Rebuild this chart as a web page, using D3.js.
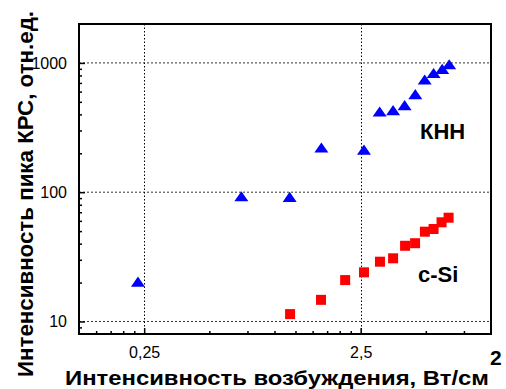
<!DOCTYPE html>
<html><head><meta charset="utf-8">
<script src="https://cdn.jsdelivr.net/npm/d3@7"></script>
<style>
body{margin:0;background:#fff;}
svg{display:block;font-family:"Liberation Sans",Arial,sans-serif;}
</style></head><body>
<svg id="c" width="506" height="389"></svg>
<script>
// data
const knnX = [0.234, 0.703, 1.175, 1.646, 2.59, 3.06, 3.53, 3.99, 4.47, 4.94, 5.43, 5.95, 6.41];
const knnY = [19.9, 91, 90, 217, 209, 412, 422, 462, 561, 728, 818, 881, 957];
const siX = [1.18, 1.64, 2.12, 2.59, 3.07, 3.53, 4.01, 4.46, 4.95, 5.43, 5.91, 6.37];
const siY = [11.4, 14.7, 20.9, 24.0, 29.0, 30.8, 38.5, 40.3, 49.5, 51.9, 58.5, 63.5];
const xMajor = [0.25, 2.5];
const xMajorLabels = ["0,25", "2,5"];
const xMinor = [0.15, 0.175, 0.2, 0.225, 0.5, 0.75, 1, 1.25, 1.5, 1.75, 2, 2.25, 5, 7.5];
const yMajor = [10, 100, 1000];
const yMajorLabels = ["10", "100", "1000"];
const yMinor = [9, 20, 30, 40, 50, 60, 70, 80, 90, 200, 300, 400, 500, 600, 700, 800, 900];
const xTitle = "Интенсивность возбуждения, Вт/см";
const xTitleSup = "2";
const yTitle = "Интенсивность пика КРС, отн.ед.";
const labelKnn = "КНН";
const labelSi = "c-Si";

const L = 79, R = 491, T = 24, B = 334;
const svg = d3.select("#c");
const x = d3.scaleLog().domain([0.125, 10]).range([L, R]);
const y = d3.scaleLog().domain([8, 2000]).range([B, T]);

// grid
const g = svg.append("g");
g.selectAll(".hg").data(yMajor).join("line")
  .attr("x1", L).attr("x2", R).attr("y1", d => y(d)).attr("y2", d => y(d))
  .attr("stroke", "#333").attr("stroke-width", 1).attr("stroke-dasharray", "2,2");
g.selectAll(".vg").data(xMajor).join("line")
  .attr("y1", T).attr("y2", B).attr("x1", d => Math.round(x(d)) + 0.5).attr("x2", d => Math.round(x(d)) + 0.5)
  .attr("stroke", "#000").attr("stroke-width", 1).attr("stroke-dasharray", "1.5,2");

// axes
const ax = svg.append("g").attr("transform", `translate(0,${B})`);
ax.call(d3.axisBottom(x).tickValues(xMinor).tickSize(-3).tickFormat(""));
const ax2 = svg.append("g").attr("transform", `translate(0,${B})`);
ax2.call(d3.axisBottom(x).tickValues(xMajor).tickSize(-6).tickPadding(13)
  .tickFormat((d, i) => xMajorLabels[i]));
const ay = svg.append("g").attr("transform", `translate(${L},0)`);
ay.call(d3.axisLeft(y).tickValues(yMinor).tickSize(-3).tickFormat(""));
const ay2 = svg.append("g").attr("transform", `translate(${L},0)`);
ay2.call(d3.axisLeft(y).tickValues(yMajor).tickSize(-6).tickPadding(12)
  .tickFormat((d, i) => yMajorLabels[i]));
svg.selectAll(".domain").remove();
svg.selectAll(".tick line").attr("stroke", "#000").attr("stroke-width", 1.5);
svg.selectAll(".tick text").attr("font-size", 16).attr("fill", "#000")
  .attr("font-family", '"Liberation Sans",Arial,sans-serif');

// frame
svg.append("rect").attr("x", L).attr("y", T).attr("width", R - L).attr("height", B - T)
  .attr("fill", "none").attr("stroke", "#000").attr("stroke-width", 2);

// markers
const tri = d3.symbol().type(d3.symbolTriangle).size(70);
svg.append("g").selectAll("path").data(knnX.map((v, i) => [v, knnY[i]])).join("path")
  .attr("d", tri)
  .attr("transform", d => `translate(${x(d[0])},${y(d[1]) + 0.5}) scale(1.1,0.92)`)
  .attr("fill", "#0000ff");
const s = 10;
svg.append("g").selectAll("rect").data(siX.map((v, i) => [v, siY[i]])).join("rect")
  .attr("x", d => x(d[0]) - s / 2).attr("y", d => y(d[1]) - s / 2)
  .attr("width", s).attr("height", s).attr("fill", "#ff0000");

// labels
svg.append("text").attr("x", 420).attr("y", 138.5).attr("font-size", 22).attr("font-weight", "bold")
  .text(labelKnn);
svg.append("text").attr("x", 418).attr("y", 281.5).attr("font-size", 22).attr("font-weight", "bold")
  .text(labelSi);

// titles
svg.append("text").attr("x", 65).attr("y", 385).attr("font-size", 19.5).attr("font-weight", "bold")
  .attr("textLength", 424).attr("lengthAdjust", "spacingAndGlyphs")
  .text(xTitle);
svg.append("text").attr("x", 490).attr("y", 365).attr("font-size", 21).attr("font-weight", "bold")
  .text(xTitleSup);

svg.append("text").attr("transform", "translate(33,194) rotate(-90)")
  .attr("text-anchor", "middle").attr("font-size", 21.5).attr("font-weight", "bold")
  .attr("textLength", 366).attr("lengthAdjust", "spacingAndGlyphs")
  .text(yTitle);
</script>
</body></html>
